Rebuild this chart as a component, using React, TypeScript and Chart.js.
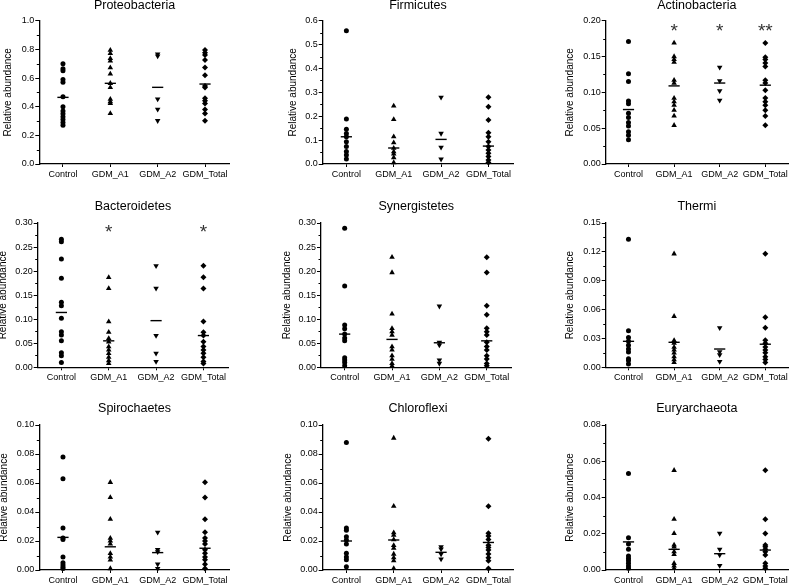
import React, { useEffect, useRef } from "react";
import { Chart, registerables } from "chart.js";

Chart.register(...registerables);

const groupLabels = ["Control", "GDM_A1", "GDM_A2", "GDM_Total"];

// Proteobacteria
const proteoTicks = [0, 0.2, 0.4, 0.6, 0.8, 1.0];
const proteoControl = [0.7, 0.665, 0.65, 0.59, 0.57, 0.47, 0.4, 0.37, 0.35, 0.33, 0.31, 0.29, 0.27];
const proteoA1 = [0.795, 0.772, 0.737, 0.72, 0.672, 0.628, 0.563, 0.535, 0.453, 0.435, 0.423, 0.353];
const proteoA2 = [0.767, 0.753, 0.453, 0.381, 0.302];
const proteoTotal = [0.795, 0.777, 0.76, 0.726, 0.674, 0.62, 0.544, 0.533, 0.458, 0.442, 0.423, 0.381, 0.353, 0.302];
const proteoMeans = [0.465, 0.563, 0.535, 0.558];

// Firmicutes
const firmiTicks = [0, 0.1, 0.2, 0.3, 0.4, 0.5, 0.6];
const firmiControl = [0.558, 0.188, 0.145, 0.128, 0.114, 0.093, 0.073, 0.052, 0.038, 0.021];
const firmiA1 = [0.243, 0.187, 0.114, 0.089, 0.066, 0.052, 0.042, 0.027, 0.006];
const firmiA2 = [0.279, 0.128, 0.07, 0.02];
const firmiTotal = [0.279, 0.24, 0.184, 0.131, 0.114, 0.093, 0.073, 0.059, 0.045, 0.031, 0.017, 0.006];
const firmiMeans = [0.114, 0.067, 0.103, 0.075];

// Actinobacteria
const actinoTicks = [0, 0.05, 0.1, 0.15, 0.2];
const actinoControl = [0.171, 0.126, 0.115, 0.088, 0.084, 0.071, 0.065, 0.058, 0.053, 0.045, 0.04, 0.034];
const actinoA1 = [0.169, 0.15, 0.146, 0.142, 0.117, 0.113, 0.092, 0.087, 0.082, 0.075, 0.067, 0.054];
const actinoA2 = [0.135, 0.116, 0.102, 0.089];
const actinoTotal = [0.169, 0.149, 0.146, 0.141, 0.136, 0.117, 0.113, 0.103, 0.092, 0.087, 0.082, 0.075, 0.067, 0.054];
const actinoMeans = [0.076, 0.109, 0.113, 0.11];
const actinoStars = ["", "*", "*", "**"];
const actinoStarLevel = 0.192;

// Bacteroidetes
const bacteroTicks = [0, 0.05, 0.1, 0.15, 0.2, 0.25, 0.3];
const bacteroControl = [0.266, 0.261, 0.225, 0.185, 0.135, 0.128, 0.102, 0.074, 0.067, 0.055, 0.03, 0.024, 0.01];
const bacteroA1 = [0.187, 0.164, 0.095, 0.073, 0.06, 0.053, 0.043, 0.036, 0.029, 0.021, 0.014, 0.008];
const bacteroA2 = [0.211, 0.164, 0.066, 0.029, 0.012];
const bacteroTotal = [0.211, 0.187, 0.164, 0.095, 0.073, 0.066, 0.053, 0.043, 0.036, 0.029, 0.021, 0.012, 0.008];
const bacteroMeans = [0.114, 0.055, 0.097, 0.066];
const bacteroStars = ["", "*", "", "*"];
const bacteroStarLevel = 0.291;

// Synergistetes
const synerTicks = [0, 0.05, 0.1, 0.15, 0.2, 0.25, 0.3];
const synerControl = [0.289, 0.169, 0.088, 0.08, 0.069, 0.061, 0.055, 0.02, 0.015, 0.01, 0.003];
const synerA1 = [0.229, 0.197, 0.111, 0.081, 0.074, 0.067, 0.043, 0.036, 0.024, 0.017, 0.008, 0.003];
const synerA2 = [0.127, 0.052, 0.046, 0.015, 0.008];
const synerTotal = [0.229, 0.197, 0.128, 0.109, 0.081, 0.074, 0.067, 0.052, 0.043, 0.036, 0.024, 0.017, 0.008, 0.003];
const synerMeans = [0.069, 0.058, 0.051, 0.055];

// Thermi
const thermiTicks = [0, 0.03, 0.06, 0.09, 0.12, 0.15];
const thermiControl = [0.133, 0.038, 0.031, 0.027, 0.023, 0.019, 0.016, 0.009, 0.007, 0.0035];
const thermiA1 = [0.118, 0.053, 0.028, 0.025, 0.021, 0.018, 0.015, 0.011, 0.008, 0.005];
const thermiA2 = [0.041, 0.016, 0.013, 0.006];
const thermiTotal = [0.118, 0.052, 0.041, 0.028, 0.025, 0.021, 0.018, 0.015, 0.011, 0.008, 0.005];
const thermiMeans = [0.027, 0.026, 0.019, 0.024];

// Spirochaetes
const spiroTicks = [0, 0.02, 0.04, 0.06, 0.08, 0.1];
const spiroControl = [0.078, 0.063, 0.029, 0.022, 0.021, 0.009, 0.005, 0.0035, 0.002, 0.001];
const spiroA1 = [0.0605, 0.05, 0.035, 0.022, 0.02, 0.018, 0.0115, 0.009, 0.007, 0.001];
const spiroA2 = [0.026, 0.014, 0.0125, 0.004, 0.001];
const spiroTotal = [0.0605, 0.05, 0.035, 0.026, 0.022, 0.02, 0.018, 0.014, 0.0115, 0.009, 0.007, 0.004, 0.001];
const spiroMeans = [0.0225, 0.016, 0.012, 0.015];

// Chloroflexi
const chloroTicks = [0, 0.02, 0.04, 0.06, 0.08, 0.1];
const chloroControl = [0.088, 0.029, 0.0275, 0.023, 0.0207, 0.018, 0.0115, 0.009, 0.007, 0.0023];
const chloroA1 = [0.091, 0.044, 0.0257, 0.024, 0.021, 0.017, 0.015, 0.011, 0.0085, 0.0064, 0.0011];
const chloroA2 = [0.016, 0.0145, 0.011, 0.0075];
const chloroTotal = [0.0905, 0.044, 0.0253, 0.0234, 0.021, 0.017, 0.0156, 0.0138, 0.011, 0.0085, 0.0064, 0.0011];
const chloroMeans = [0.02, 0.0207, 0.0122, 0.019];

// Euryarchaeota
const euryTicks = [0, 0.02, 0.04, 0.06, 0.08];
const euryControl = [0.0533, 0.0178, 0.0143, 0.0114, 0.0077, 0.0064, 0.0051, 0.0037, 0.0022, 0.0009];
const euryA1 = [0.055, 0.028, 0.0202, 0.0138, 0.0128, 0.0101, 0.0086, 0.0037, 0.0022, 0.0009];
const euryA2 = [0.0202, 0.0114, 0.0083, 0.0024];
const euryTotal = [0.055, 0.028, 0.0202, 0.0138, 0.0128, 0.0114, 0.0101, 0.0083, 0.0037, 0.0022, 0.0009];
const euryMeans = [0.0155, 0.0114, 0.009, 0.011];

type PanelDef = {
  name: string;
  ticks: number[];
  decimals: number;
  groups: number[][];
  means: number[];
  stars?: string[];
  starLevel?: number;
};

const panels: PanelDef[] = [
  { name: "Proteobacteria", ticks: proteoTicks, decimals: 1, groups: [proteoControl, proteoA1, proteoA2, proteoTotal], means: proteoMeans },
  { name: "Firmicutes", ticks: firmiTicks, decimals: 1, groups: [firmiControl, firmiA1, firmiA2, firmiTotal], means: firmiMeans },
  { name: "Actinobacteria", ticks: actinoTicks, decimals: 2, groups: [actinoControl, actinoA1, actinoA2, actinoTotal], means: actinoMeans, stars: actinoStars, starLevel: actinoStarLevel },
  { name: "Bacteroidetes", ticks: bacteroTicks, decimals: 2, groups: [bacteroControl, bacteroA1, bacteroA2, bacteroTotal], means: bacteroMeans, stars: bacteroStars, starLevel: bacteroStarLevel },
  { name: "Synergistetes", ticks: synerTicks, decimals: 2, groups: [synerControl, synerA1, synerA2, synerTotal], means: synerMeans },
  { name: "Thermi", ticks: thermiTicks, decimals: 2, groups: [thermiControl, thermiA1, thermiA2, thermiTotal], means: thermiMeans },
  { name: "Spirochaetes", ticks: spiroTicks, decimals: 2, groups: [spiroControl, spiroA1, spiroA2, spiroTotal], means: spiroMeans },
  { name: "Chloroflexi", ticks: chloroTicks, decimals: 2, groups: [chloroControl, chloroA1, chloroA2, chloroTotal], means: chloroMeans },
  { name: "Euryarchaeota", ticks: euryTicks, decimals: 2, groups: [euryControl, euryA1, euryA2, euryTotal], means: euryMeans },
];

// Layout (page pixel coordinates)
const CELL_W = 265;
const CELL_H = 195;
const UNIT = 47.35;
const boxes = [
  { cx: 0, cy: 0, left: 39.3, top: 20.7, bottom: 164, yTitleX: 8.3, titleY: 5.3 },
  { cx: 265, cy: 0, left: 322.7, top: 20.7, bottom: 164, yTitleX: 293.3, titleY: 5.3 },
  { cx: 530, cy: 0, left: 605.7, top: 20.7, bottom: 164, yTitleX: 570, titleY: 5.3 },
  { cx: 0, cy: 195, left: 37.7, top: 223, bottom: 367.3, yTitleX: 3.6, titleY: 206.3 },
  { cx: 265, cy: 195, left: 321, top: 223, bottom: 367.3, yTitleX: 287.5, titleY: 206.3 },
  { cx: 530, cy: 195, left: 605.7, top: 223, bottom: 367.3, yTitleX: 570, titleY: 206.3 },
  { cx: 0, cy: 390, left: 39.3, top: 425, bottom: 570, yTitleX: 4, titleY: 408.3 },
  { cx: 265, cy: 390, left: 322.7, top: 425, bottom: 570, yTitleX: 288, titleY: 408.3 },
  { cx: 530, cy: 390, left: 605.7, top: 425, bottom: 570, yTitleX: 570, titleY: 408.3 },
];

const markerStyles = [
  { pointStyle: "circle", radius: 2.5, rotation: 0 },
  { pointStyle: "triangle", radius: 3.2, rotation: 0 },
  { pointStyle: "triangle", radius: 3.2, rotation: 180 },
  { pointStyle: "rectRot", radius: 3.0, rotation: 0 },
];

const FONT = "'Liberation Sans', Arial, sans-serif";
const X_AXIS_H = 15;

function Panel({ def, box }: { def: PanelDef; box: (typeof boxes)[number] }) {
  const ref = useRef<HTMLCanvasElement | null>(null);
  useEffect(() => {
    const canvas = ref.current;
    if (!canvas) return;
    const leftLocal = box.left - box.cx;
    const rightLocal = Math.min(leftLocal + 190.5, CELL_W);
    const topLocal = box.top - box.cy;
    const bottomLocal = box.bottom - box.cy;
    const xMax = 0.5 + (rightLocal - leftLocal) / UNIT;
    const yMax = def.ticks[def.ticks.length - 1];

    const datasets: any[] = def.groups.map((vals, gi) => ({
      label: groupLabels[gi],
      data: vals.map((v) => ({ x: gi + 1, y: v })),
      backgroundColor: "#000",
      borderColor: "#000",
      borderWidth: 0,
      pointStyle: markerStyles[gi].pointStyle,
      pointRadius: markerStyles[gi].radius,
      pointRotation: markerStyles[gi].rotation,
      pointHoverRadius: markerStyles[gi].radius,
      clip: false,
    }));
    datasets.push({
      label: "mean",
      data: def.means.map((m, gi) => ({ x: gi + 1, y: m })),
      backgroundColor: "#000",
      borderColor: "#000",
      borderWidth: 1.4,
      pointStyle: "line",
      pointRadius: 5.6,
      pointHoverRadius: 5.6,
      clip: false,
    });

    const decor = {
      id: "decor",
      afterDraw(chart: any) {
        const { ctx, chartArea, scales } = chart;
        const ys = scales.y;
        const xs = scales.x;
        ctx.save();
        // minor ticks
        ctx.strokeStyle = "#000";
        ctx.lineWidth = 1;
        for (let i = 0; i < def.ticks.length - 1; i++) {
          const mid = (def.ticks[i] + def.ticks[i + 1]) / 2;
          const py = Math.round(ys.getPixelForValue(mid)) + 0.5;
          ctx.beginPath();
          ctx.moveTo(chartArea.left - 2.5, py);
          ctx.lineTo(chartArea.left, py);
          ctx.stroke();
        }
        // title
        ctx.fillStyle = "#000";
        ctx.font = `12.5px ${FONT}`;
        ctx.textAlign = "center";
        ctx.textBaseline = "middle";
        ctx.fillText(def.name, (chartArea.left + chartArea.right) / 2, box.titleY - box.cy);
        // y-axis title
        ctx.save();
        ctx.translate(box.yTitleX - box.cx, (chartArea.top + chartArea.bottom) / 2);
        ctx.rotate(-Math.PI / 2);
        ctx.font = `10px ${FONT}`;
        ctx.textAlign = "center";
        ctx.textBaseline = "middle";
        ctx.fillText("Relative abundance", 0, 0);
        ctx.restore();
        // significance stars
        if (def.stars && def.starLevel !== undefined) {
          ctx.fillStyle = "#333";
          ctx.font = `19px ${FONT}`;
          ctx.textAlign = "center";
          ctx.textBaseline = "alphabetic";
          const cyStar = ys.getPixelForValue(def.starLevel);
          def.stars.forEach((s, gi) => {
            if (!s) return;
            ctx.fillText(s, xs.getPixelForValue(gi + 1), cyStar + 0.58 * 19);
          });
        }
        ctx.restore();
      },
    };

    const chart = new Chart(canvas, {
      type: "scatter",
      data: { datasets },
      options: {
        animation: false,
        responsive: false,
        devicePixelRatio: 1,
        events: [],
        layout: {
          padding: {
            left: 0,
            right: CELL_W - rightLocal,
            top: topLocal,
            bottom: Math.max(0, CELL_H - bottomLocal - X_AXIS_H),
          },
        },
        plugins: {
          legend: { display: false },
          tooltip: { enabled: false },
          title: { display: false },
        },
        scales: {
          x: {
            type: "linear",
            min: 0.5,
            max: xMax,
            afterBuildTicks: (scale: any) => {
              scale.ticks = groupLabels.map((_, i) => ({ value: i + 1 }));
            },
            afterFit: (scale: any) => {
              scale.height = X_AXIS_H;
            },
            ticks: {
              autoSkip: false,
              maxRotation: 0,
              minRotation: 0,
              padding: 2,
              color: "#000",
              font: { family: FONT, size: 9 },
              callback: (v: any) => groupLabels[Math.round(Number(v)) - 1] ?? "",
            },
            grid: {
              display: true,
              drawOnChartArea: false,
              drawTicks: true,
              tickLength: 3,
              color: "#000",
              lineWidth: 1,
            },
            border: { display: true, color: "#000", width: 1.3 },
          },
          y: {
            type: "linear",
            min: 0,
            max: yMax,
            afterBuildTicks: (scale: any) => {
              scale.ticks = def.ticks.map((v) => ({ value: v }));
            },
            afterFit: (scale: any) => {
              scale.width = leftLocal;
            },
            ticks: {
              padding: 1,
              color: "#000",
              font: { family: FONT, size: 9 },
              callback: (v: any) => Number(v).toFixed(def.decimals),
            },
            grid: {
              display: true,
              drawOnChartArea: false,
              drawTicks: true,
              tickLength: 4,
              color: "#000",
              lineWidth: 1,
            },
            border: { display: true, color: "#000", width: 1.3 },
          },
        },
      },
      plugins: [decor],
    } as any);
    return () => chart.destroy();
  }, [def, box]);

  return (
    <canvas
      ref={ref}
      width={CELL_W}
      height={CELL_H}
      style={{ position: "absolute", left: box.cx, top: box.cy, width: CELL_W, height: CELL_H, display: "block" }}
    />
  );
}

export default function App() {
  return (
    <div style={{ position: "absolute", left: 0, top: 0, width: 795, height: 585, background: "#fff", overflow: "hidden" }}>
      {panels.map((p, i) => (
        <Panel key={p.name} def={p} box={boxes[i]} />
      ))}
    </div>
  );
}
